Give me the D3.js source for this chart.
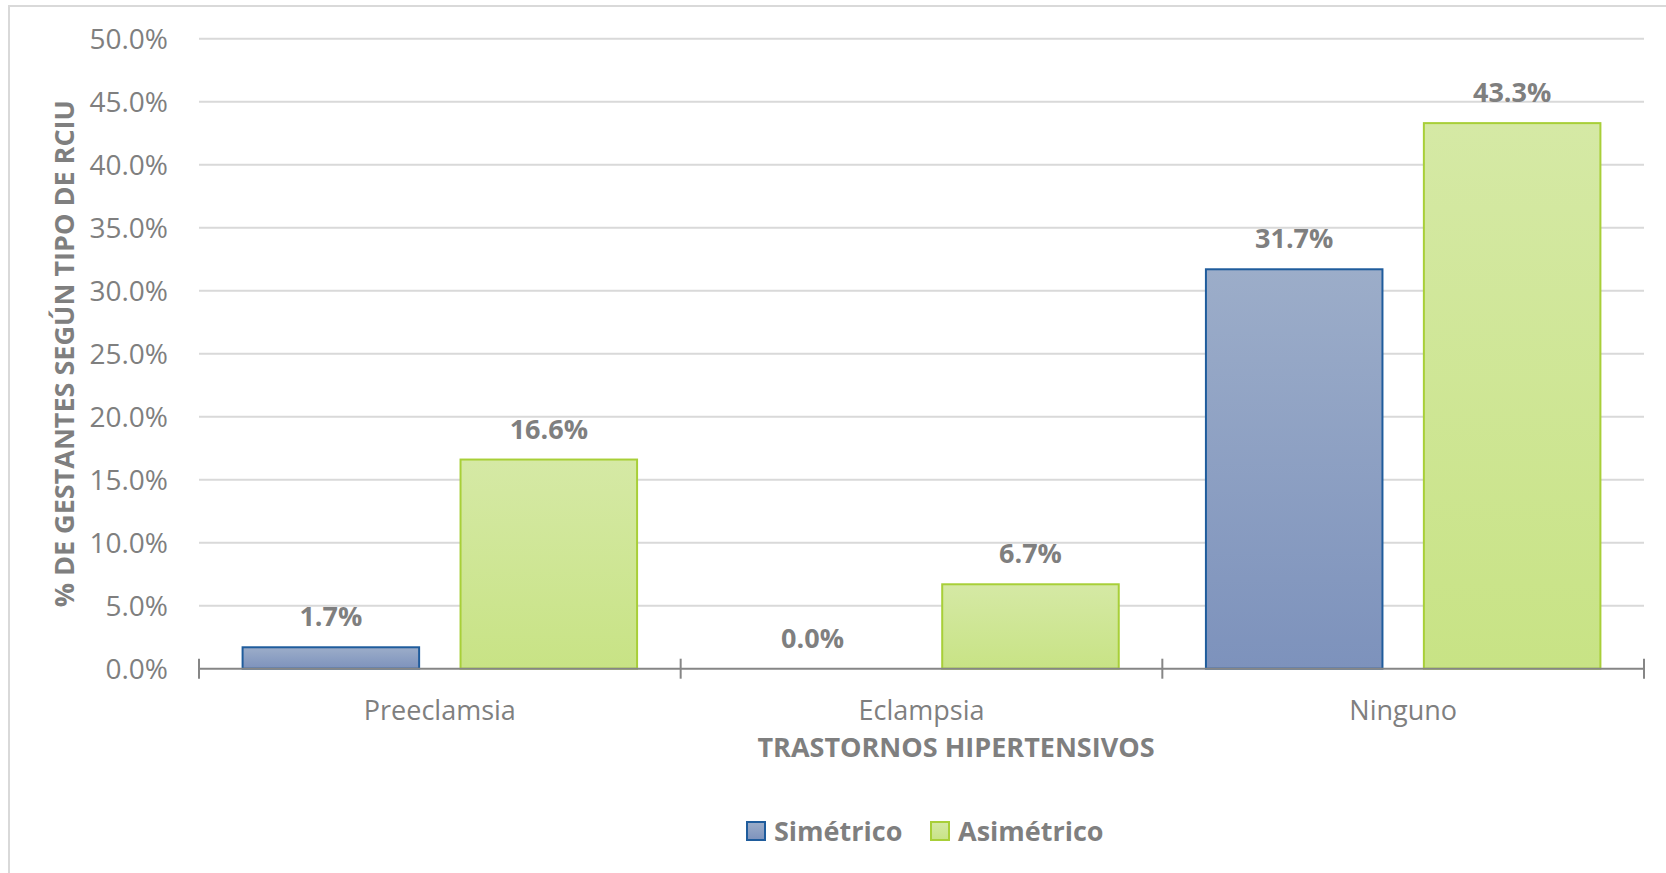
<!DOCTYPE html>
<html lang="es">
<head>
<meta charset="utf-8">
<script src="https://cdn.jsdelivr.net/npm/d3@7"></script>
<style>
  html, body { margin: 0; padding: 0; background: #ffffff; }
  svg { display: block; font-family: "Open Sans", "Noto Sans", sans-serif; }
</style>
</head>
<body>
<svg id="chart" width="1666" height="873"></svg>
<script>
// Categories, series and values (fractions)
const categories = ["Preeclamsia", "Eclampsia", "Ninguno"];
const seriesNames = ["Simétrico", "Asimétrico"];
const simetrico = [0.017, 0.000, 0.317];
const asimetrico = [0.166, 0.067, 0.433];
const yTicks = [0, 0.05, 0.10, 0.15, 0.20, 0.25, 0.30, 0.35, 0.40, 0.45, 0.50];
const yTitle = "% DE GESTANTES SEGÚN TIPO DE RCIU";
const xTitle = "TRASTORNOS HIPERTENSIVOS";

const seriesValues = [simetrico, asimetrico];
const rows = categories.map((c, i) => ({
  category: c,
  values: seriesNames.map((s, k) => ({ series: s, value: seriesValues[k][i] }))
}));

const W = 1666, H = 873;
const plot = { left: 199, right: 1644, top: 38.7, bottom: 668.7 };
const textGray = "#7f7f7f";
const styles = {
  "Simétrico": { top: "#9cadc9", bottom: "#7d92bc", stroke: "#1f5c9c", id: "gSim" },
  "Asimétrico": { top: "#d5e9a5", bottom: "#c8e385", stroke: "#a8cf38", id: "gAsim" }
};

const svg = d3.select("#chart");

// Vertical gradients for bar fills
const defs = svg.append("defs");
seriesNames.forEach(s => {
  const g = defs.append("linearGradient").attr("id", styles[s].id)
    .attr("x1", 0).attr("y1", 0).attr("x2", 0).attr("y2", 1);
  g.append("stop").attr("offset", "0%").attr("stop-color", styles[s].top);
  g.append("stop").attr("offset", "100%").attr("stop-color", styles[s].bottom);
});

// Chart area border
svg.append("rect")
  .attr("x", 9).attr("y", 6).attr("width", W + 20).attr("height", H + 20)
  .attr("fill", "#ffffff").attr("stroke", "#d9d9d9").attr("stroke-width", 2);

// Scales
const y = d3.scaleLinear().domain([0, 0.5]).range([plot.bottom, plot.top]);
const x0 = d3.scaleBand().domain(categories).range([plot.left, plot.right])
  .paddingInner(0).paddingOuter(0);
const x1 = d3.scaleBand().domain(seriesNames).range([0, x0.bandwidth()])
  .paddingInner(0.19).paddingOuter(0.2);

// Gridlines
svg.append("g").selectAll("line")
  .data(yTicks.filter(t => t > 0))
  .join("line")
  .attr("x1", plot.left).attr("x2", plot.right)
  .attr("y1", d => y(d)).attr("y2", d => y(d))
  .attr("stroke", "#d9d9d9").attr("stroke-width", 2);

// Y axis labels
const yAxis = svg.append("g")
  .attr("transform", `translate(${plot.left},0)`)
  .call(d3.axisLeft(y).tickValues(yTicks).tickFormat(d3.format(".1%")).tickSize(0).tickPadding(31));
yAxis.select(".domain").remove();
yAxis.selectAll("text")
  .attr("fill", textGray).attr("font-size", 28).attr("dy", "0.35em")
  .style("font-family", "'Open Sans', sans-serif");

// Bars
const groups = svg.append("g").selectAll("g")
  .data(rows).join("g")
  .attr("transform", d => `translate(${x0(d.category)},0)`);

groups.selectAll("rect")
  .data(d => d.values.filter(v => v.value > 0))
  .join("rect")
  .attr("x", d => x1(d.series))
  .attr("y", d => y(d.value))
  .attr("width", x1.bandwidth())
  .attr("height", d => y(0) - y(d.value))
  .attr("fill", d => `url(#${styles[d.series].id})`)
  .attr("stroke", d => styles[d.series].stroke)
  .attr("stroke-width", 2);

// Value labels
groups.selectAll("text.val")
  .data(d => d.values)
  .join("text")
  .attr("class", "val")
  .attr("x", d => x1(d.series) + x1.bandwidth() / 2)
  .attr("y", d => y(d.value) - 21)
  .attr("text-anchor", "middle")
  .attr("font-size", 27).attr("font-weight", 700)
  .attr("fill", textGray)
  .text(d => d3.format(".1%")(d.value));

// X axis: baseline and category boundary ticks
const xAxisG = svg.append("g");
xAxisG.append("line")
  .attr("x1", plot.left).attr("x2", plot.right)
  .attr("y1", y(0)).attr("y2", y(0))
  .attr("stroke", "#868686").attr("stroke-width", 2);
const boundaries = categories.map(c => x0(c)).concat([x0.range()[1]]);
xAxisG.selectAll("line.tick")
  .data(boundaries).join("line")
  .attr("class", "tick")
  .attr("x1", d => d).attr("x2", d => d)
  .attr("y1", y(0) - 10).attr("y2", y(0) + 10)
  .attr("stroke", "#868686").attr("stroke-width", 2);

// Category labels
const xAxis = svg.append("g")
  .attr("transform", `translate(0,${y(0)})`)
  .call(d3.axisBottom(x0).tickSize(0).tickPadding(32));
xAxis.select(".domain").remove();
xAxis.selectAll("text")
  .attr("fill", textGray).attr("font-size", 27)
  .style("font-family", "'Open Sans', sans-serif");

// Axis titles
svg.append("text")
  .attr("x", 956).attr("y", 757)
  .attr("text-anchor", "middle")
  .attr("font-size", 27).attr("font-weight", 700)
  .attr("fill", textGray)
  .text(xTitle);

svg.append("text")
  .attr("transform", `translate(74,${(plot.top + plot.bottom) / 2}) rotate(-90)`)
  .attr("text-anchor", "middle")
  .attr("font-size", 27).attr("font-weight", 700)
  .attr("fill", textGray)
  .text(yTitle);

// Legend
const legendItems = [
  { name: seriesNames[0], x: 747 },
  { name: seriesNames[1], x: 931 }
];
const legend = svg.append("g");
legendItems.forEach(it => {
  legend.append("rect")
    .attr("x", it.x).attr("y", 822).attr("width", 18).attr("height", 18)
    .attr("fill", `url(#${styles[it.name].id})`)
    .attr("stroke", styles[it.name].stroke).attr("stroke-width", 2);
  legend.append("text")
    .attr("x", it.x + 27).attr("y", 841)
    .attr("font-size", 27).attr("font-weight", 700)
    .attr("fill", textGray)
    .text(it.name);
});
</script>
</body>
</html>
